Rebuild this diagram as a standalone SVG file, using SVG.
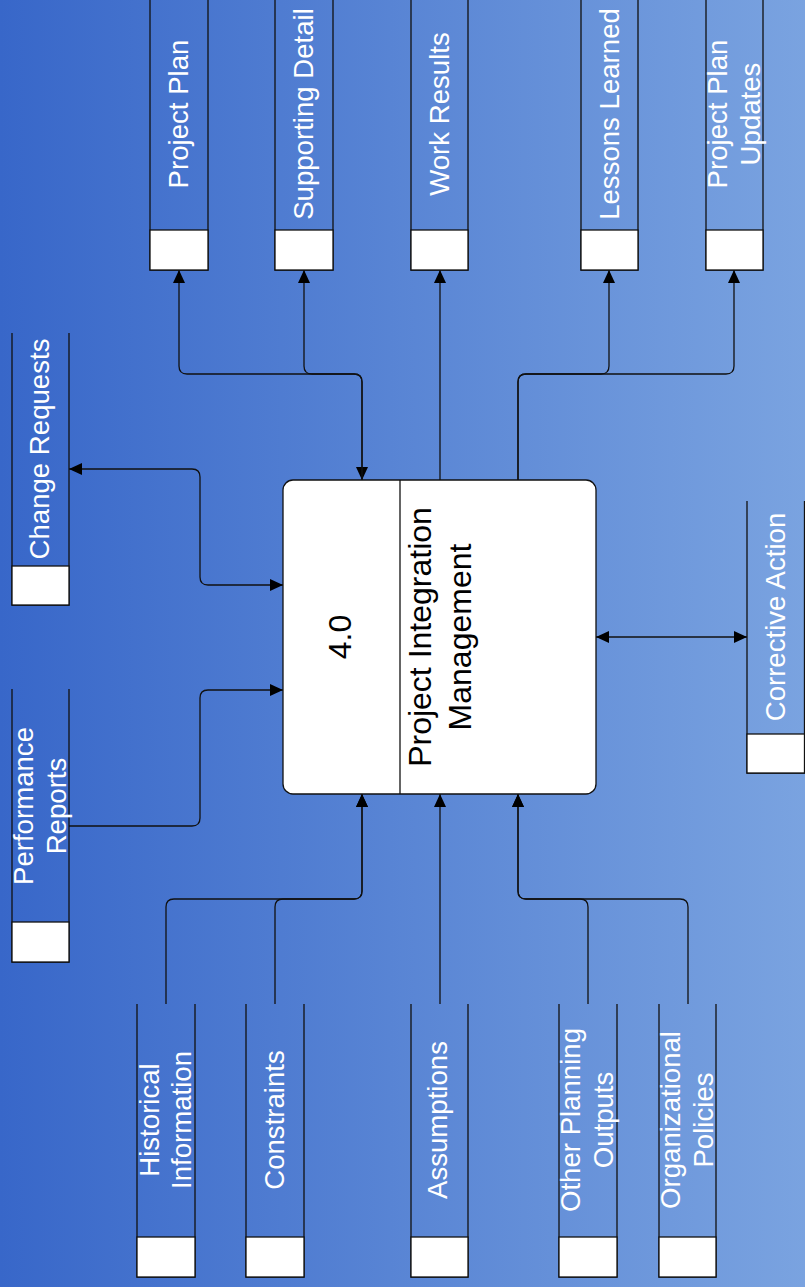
<svg xmlns="http://www.w3.org/2000/svg" width="805" height="1287" viewBox="0 0 805 1287">
<defs>
<linearGradient id="bg" x1="0" y1="0" x2="1" y2="0">
<stop offset="0" stop-color="#3867c9"/>
<stop offset="1" stop-color="#7aa3e0"/>
</linearGradient>
<marker id="arr" markerUnits="userSpaceOnUse" markerWidth="14" markerHeight="13" refX="13" refY="6" orient="auto-start-reverse">
<path d="M0,0 L13,6 L0,12 z" fill="#000"/>
</marker>
<style>
.store{fill:none;stroke:#111;stroke-width:1.3}
.tab{fill:#fff;stroke:#111;stroke-width:1.3}
.st{fill:#fff;font-family:"Liberation Sans",Arial,sans-serif;font-size:27.6px;text-anchor:middle}
.pt{fill:#000;font-family:"Liberation Sans",Arial,sans-serif;font-size:32px;text-anchor:middle}
.c{fill:none;stroke:#111;stroke-width:1.3}
.a2{marker-start:url(#arr);marker-end:url(#arr)}
.a1{marker-end:url(#arr)}
.as{marker-start:url(#arr)}
</style>
</defs>
<rect x="0" y="0" width="805" height="1287" fill="url(#bg)"/>

<g id="connectors">
<path class="c a2" d="M179,270 V366 q0,8 8,8 H354 q8,0 8,8 V480"/>
<path class="c as" d="M304,270 V366 q0,8 8,8 H354 q8,0 8,8 V480"/>
<path class="c a1" d="M440,480 V270"/>
<path class="c a1" d="M518,480 V382 q0,-8 8,-8 H601 q8,0 8,-8 V270"/>
<path class="c a1" d="M518,480 V382 q0,-8 8,-8 H726 q8,0 8,-8 V270"/>
<path class="c a2" d="M283,585 H208 q-8,0 -8,-8 V477 q0,-8 -8,-8 H69"/>
<path class="c a1" d="M69,826 H192 q8,0 8,-8 V698 q0,-8 8,-8 H283"/>
<path class="c a2" d="M596,637 H747"/>
<path class="c a1" d="M166,1004 V907 q0,-8 8,-8 H354 q8,0 8,-8 V794"/>
<path class="c a1" d="M275,1004 V907 q0,-8 8,-8 H354 q8,0 8,-8 V794"/>
<path class="c a1" d="M440,1004 V794"/>
<path class="c a1" d="M588,1004 V907 q0,-8 -8,-8 H526 q-8,0 -8,-8 V794"/>
<path class="c a1" d="M688,1004 V907 q0,-8 -8,-8 H526 q-8,0 -8,-8 V794"/>
</g>

<g id="process-4-0">
<rect x="283" y="480" width="313" height="314" rx="10" fill="#fff" stroke="#111" stroke-width="1.3"/>
<line x1="400" y1="480" x2="400" y2="794" stroke="#111" stroke-width="1.3"/>
<text class="pt" transform="translate(351,637) rotate(-90)">4.0</text>
<text class="pt" transform="translate(431,637) rotate(-90)">Project Integration</text>
<text class="pt" transform="translate(471,637) rotate(-90)">Management</text>
</g>

<g id="store-project-plan">
<path class="store" d="M150,-10 V270 H208 V-10"/>
<rect class="tab" x="150" y="230" width="58" height="40"/>
<text class="st" transform="translate(188,114) rotate(-90)">Project Plan</text>
</g>
<g id="store-supporting-detail">
<path class="store" d="M275,-10 V270 H333 V-10"/>
<rect class="tab" x="275" y="230" width="58" height="40"/>
<text class="st" transform="translate(313,114) rotate(-90)">Supporting Detail</text>
</g>
<g id="store-work-results">
<path class="store" d="M411,-10 V270 H468 V-10"/>
<rect class="tab" x="411" y="230" width="57" height="40"/>
<text class="st" transform="translate(448.5,114) rotate(-90)">Work Results</text>
</g>
<g id="store-lessons-learned">
<path class="store" d="M581,-10 V270 H638 V-10"/>
<rect class="tab" x="581" y="230" width="57" height="40"/>
<text class="st" transform="translate(618.5,114) rotate(-90)">Lessons Learned</text>
</g>
<g id="store-project-plan-updates">
<path class="store" d="M706,-10 V270 H763 V-10"/>
<rect class="tab" x="706" y="230" width="57" height="40"/>
<text class="st" transform="translate(727,114) rotate(-90)">Project Plan</text>
<text class="st" transform="translate(759.5,114) rotate(-90)">Updates</text>
</g>

<g id="store-change-requests">
<path class="store" d="M12,333 V605 H69 V333"/>
<rect class="tab" x="12" y="566" width="57" height="39"/>
<text class="st" transform="translate(49,449) rotate(-90)">Change Requests</text>
</g>
<g id="store-performance-reports">
<path class="store" d="M12,689 V962 H69 V689"/>
<rect class="tab" x="12" y="922" width="57" height="40"/>
<text class="st" transform="translate(33,806) rotate(-90)">Performance</text>
<text class="st" transform="translate(65.5,806) rotate(-90)">Reports</text>
</g>
<g id="store-corrective-action">
<path class="store" d="M747,501 V773 H804.5 V501"/>
<rect class="tab" x="747" y="734" width="57.5" height="39"/>
<text class="st" transform="translate(784.5,617) rotate(-90)">Corrective Action</text>
</g>

<g id="store-historical-information">
<path class="store" d="M137,1004 V1277 H195 V1004"/>
<rect class="tab" x="137" y="1237" width="58" height="40"/>
<text class="st" transform="translate(158.5,1120) rotate(-90)">Historical</text>
<text class="st" transform="translate(191,1120) rotate(-90)">Information</text>
</g>
<g id="store-constraints">
<path class="store" d="M246,1004 V1277 H304 V1004"/>
<rect class="tab" x="246" y="1237" width="58" height="40"/>
<text class="st" transform="translate(284,1120) rotate(-90)">Constraints</text>
</g>
<g id="store-assumptions">
<path class="store" d="M411,1004 V1277 H468 V1004"/>
<rect class="tab" x="411" y="1237" width="57" height="40"/>
<text class="st" transform="translate(447,1120) rotate(-90)">Assumptions</text>
</g>
<g id="store-other-planning-outputs">
<path class="store" d="M559,1004 V1277 H617 V1004"/>
<rect class="tab" x="559" y="1237" width="58" height="40"/>
<text class="st" transform="translate(580,1120) rotate(-90)">Other Planning</text>
<text class="st" transform="translate(613,1120) rotate(-90)">Outputs</text>
</g>
<g id="store-organizational-policies">
<path class="store" d="M659,1004 V1277 H716 V1004"/>
<rect class="tab" x="659" y="1237" width="57" height="40"/>
<text class="st" transform="translate(680,1120) rotate(-90)">Organizational</text>
<text class="st" transform="translate(713,1120) rotate(-90)">Policies</text>
</g>
</svg>
